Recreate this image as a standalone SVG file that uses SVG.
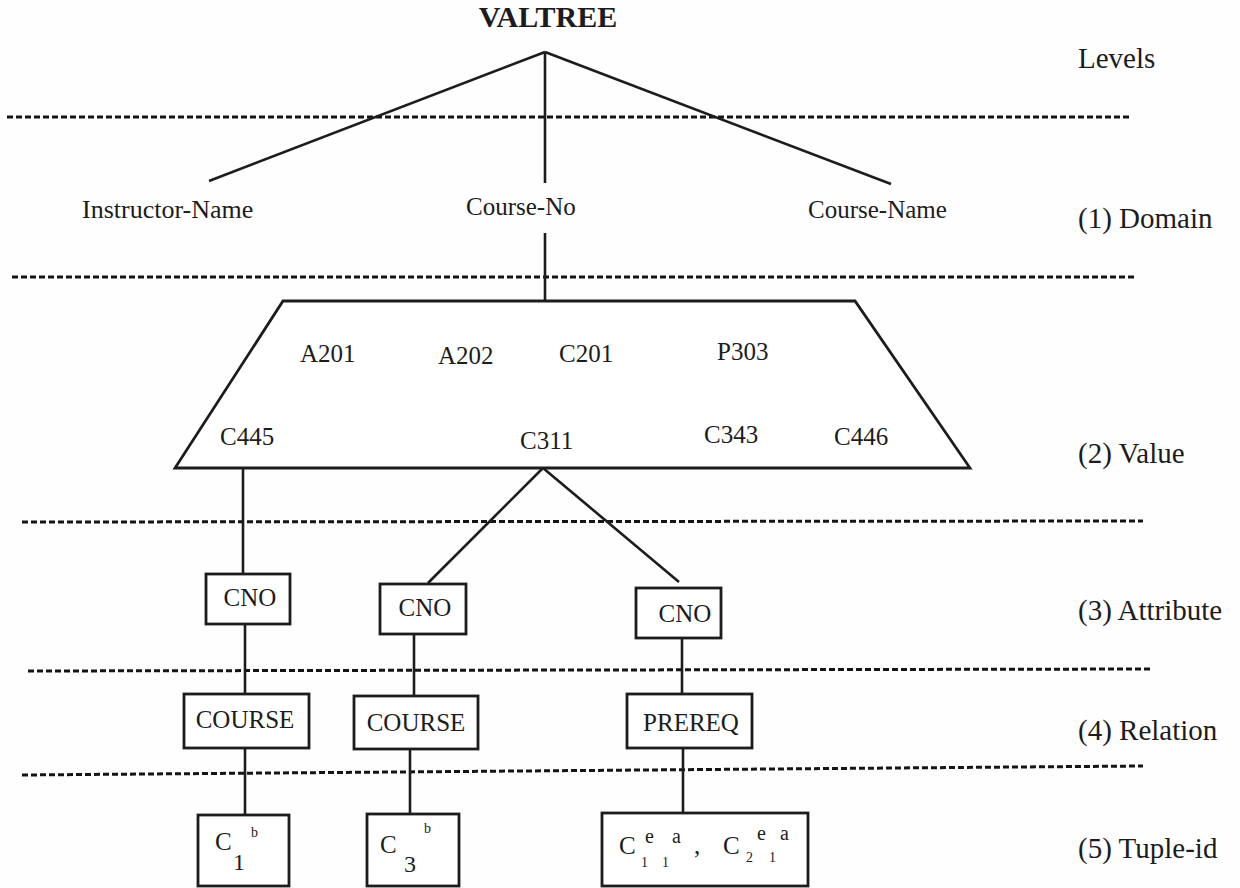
<svg xmlns="http://www.w3.org/2000/svg" width="1240" height="888" viewBox="0 0 1240 888">
  <style>
    .t { font-family: "Liberation Serif", "Times New Roman", serif; fill: #1c1c1c; }
    .title { font-size: 30px; font-weight: bold; }
    .lvl { font-size: 29px; }
    .dom { font-size: 25px; }
    .val { font-size: 25px; }
    .node { font-size: 25px; }
    .sup { font-size: 14px; }
    .sml { font-size: 20px; }
    .big { font-size: 24px; }
    .edge { stroke: #1c1c1c; stroke-width: 2.6; fill: none; }
    .box { stroke: #1c1c1c; stroke-width: 2.8; fill: #ffffff; }
    .sep { stroke: #141414; stroke-width: 3; stroke-dasharray: 6 3; fill: none; }
  </style>
  <rect width="1240" height="888" fill="#fefefe"/>

  <!-- level separators -->
  <g id="separators">
    <line class="sep" x1="7" y1="117" x2="1130" y2="117"/>
    <line class="sep" x1="12" y1="277" x2="1134" y2="277"/>
    <line class="sep" x1="22" y1="522" x2="1143" y2="521"/>
    <line class="sep" x1="28" y1="671" x2="1150" y2="669"/>
    <line class="sep" x1="22" y1="775" x2="1143" y2="766"/>
  </g>

  <!-- level labels -->
  <g id="levels">
    <text class="t lvl" x="1078" y="68">Levels</text>
    <text class="t lvl" x="1078" y="228">(1) Domain</text>
    <text class="t lvl" x="1078" y="463">(2) Value</text>
    <text class="t lvl" x="1078" y="620">(3) Attribute</text>
    <text class="t lvl" x="1078" y="740">(4) Relation</text>
    <text class="t lvl" x="1078" y="858">(5) Tuple-id</text>
  </g>

  <!-- connectors -->
  <g id="connectors">
    <line class="edge" x1="545" y1="52" x2="209" y2="181"/>
    <line class="edge" x1="545" y1="52" x2="545" y2="183"/>
    <line class="edge" x1="545" y1="52" x2="891" y2="184"/>
    <line class="edge" x1="545" y1="233" x2="545" y2="301"/>
    <line class="edge" x1="243" y1="468" x2="243" y2="574"/>
    <line class="edge" x1="543" y1="468" x2="428" y2="583"/>
    <line class="edge" x1="543" y1="468" x2="679" y2="582"/>
    <line class="edge" x1="245" y1="624" x2="245" y2="694"/>
    <line class="edge" x1="414" y1="634" x2="414" y2="696"/>
    <line class="edge" x1="682" y1="638" x2="682" y2="694"/>
    <line class="edge" x1="245" y1="748" x2="245" y2="815"/>
    <line class="edge" x1="410" y1="749" x2="410" y2="814"/>
    <line class="edge" x1="683" y1="748" x2="683" y2="813"/>
  </g>

  <!-- root -->
  <g id="valtree">
    <text class="t title" x="548" y="27" text-anchor="middle">VALTREE</text>
  </g>

  <!-- domains -->
  <g id="instructor-name">
    <text class="t dom" x="82" y="218" style="font-size:26px">Instructor-Name</text>
  </g>
  <g id="course-no">
    <text class="t dom" x="466" y="215">Course-No</text>
  </g>
  <g id="course-name">
    <text class="t dom" x="808" y="218">Course-Name</text>
  </g>

  <!-- value set -->
  <g id="values">
    <polygon class="box" points="283,301 855,301 970,468 175,468"/>
    <text class="t val" x="300" y="362">A201</text>
    <text class="t val" x="438" y="364">A202</text>
    <text class="t val" x="559" y="362">C201</text>
    <text class="t val" x="717" y="360">P303</text>
    <text class="t val" x="220" y="445">C445</text>
    <text class="t val" x="520" y="449">C311</text>
    <text class="t val" x="704" y="443">C343</text>
    <text class="t val" x="834" y="445">C446</text>
  </g>

  <!-- attributes -->
  <g id="cno-1">
    <rect class="box" x="206" y="574" width="84" height="50"/>
    <text class="t node" x="250" y="606" text-anchor="middle">CNO</text>
  </g>
  <g id="cno-2">
    <rect class="box" x="380" y="584" width="86" height="50"/>
    <text class="t node" x="425" y="616" text-anchor="middle">CNO</text>
  </g>
  <g id="cno-3">
    <rect class="box" x="636" y="588" width="85" height="50"/>
    <text class="t node" x="685" y="622" text-anchor="middle">CNO</text>
  </g>

  <!-- relations -->
  <g id="course-1">
    <rect class="box" x="184" y="694" width="125" height="54"/>
    <text class="t node" x="245" y="728" text-anchor="middle">COURSE</text>
  </g>
  <g id="course-2">
    <rect class="box" x="354" y="696" width="124" height="53"/>
    <text class="t node" x="416" y="731" text-anchor="middle">COURSE</text>
  </g>
  <g id="prereq">
    <rect class="box" x="627" y="694" width="125" height="54"/>
    <text class="t node" x="691" y="731" text-anchor="middle">PREREQ</text>
  </g>

  <!-- tuple ids -->
  <g id="tuple-1">
    <rect class="box" x="198" y="815" width="91" height="71"/>
    <text class="t node" x="215" y="850">C</text>
    <text class="t big" x="233" y="870">1</text>
    <text class="t sup" x="251" y="837">b</text>
  </g>
  <g id="tuple-2">
    <rect class="box" x="367" y="814" width="92" height="72"/>
    <text class="t node" x="380" y="853">C</text>
    <text class="t big" x="404" y="872">3</text>
    <text class="t sup" x="424" y="833">b</text>
  </g>
  <g id="tuple-3">
    <rect class="box" x="602" y="813" width="206" height="73"/>
    <text class="t node" x="619" y="854">C</text>
    <text class="t sml" x="645" y="843">e</text>
    <text class="t sml" x="672" y="843">a</text>
    <text class="t sup" x="641" y="867">1</text>
    <text class="t sup" x="662" y="867">1</text>
    <text class="t node" x="694" y="854">,</text>
    <text class="t node" x="723" y="854">C</text>
    <text class="t sml" x="757" y="840">e</text>
    <text class="t sml" x="780" y="840">a</text>
    <text class="t sup" x="746" y="862">2</text>
    <text class="t sup" x="769" y="862">1</text>
  </g>
</svg>
